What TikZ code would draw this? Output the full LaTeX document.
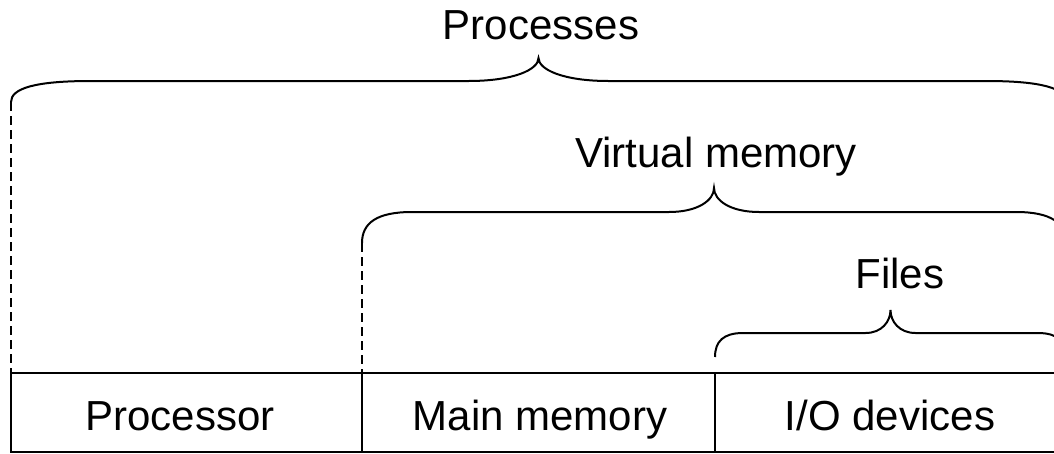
\documentclass[tikz,border=0pt]{standalone}
\usepackage{fontspec}
\setmainfont{Liberation Sans}
\begin{document}
\begin{tikzpicture}[x=1pt,y=-1pt,line width=2pt]
\fontsize{42}{50}\selectfont
\useasboundingbox (0,0) rectangle (1054,453);
% brace: left x, right x, end y, flat y, tip y, arm width, tip width
\def\brc#1#2#3#4#5#6#7{%
 \pgfmathsetmacro{\m}{(#1+#2)/2}
 \draw (#1,#3) .. controls (#1,{#4+0.35*(#3-#4)}) and ({#1+0.3*#6},#4) .. ({#1+#6},#4)
   -- ({\m-#7},#4) .. controls ({\m-0.35*#7},#4) and (\m,{#5+0.5*(#4-#5)}) .. (\m,#5)
   .. controls (\m,{#5+0.5*(#4-#5)}) and ({\m+0.35*#7},#4) .. ({\m+#7},#4)
   -- ({#2-#6},#4) .. controls ({#2-0.3*#6},#4) and (#2,{#4+0.35*(#3-#4)}) .. (#2,#3);
}
\brc{11}{1066}{102}{81}{58}{80}{70}
\brc{362}{1066}{243}{212}{188}{50}{45}
\brc{715}{1066}{357}{333}{310}{28}{25}
\draw[dash pattern=on 9pt off 5pt] (11,102) -- (11,373);
\draw[dash pattern=on 9pt off 5pt] (362,243) -- (362,373);
\draw (11,373) rectangle (1066,452);
\draw (362,373) -- (362,452);
\draw (715,373) -- (715,452);
\node[anchor=base] (procs) at (541,39) {Processes};
\node[anchor=base] (vmem) at (716,167) {Virtual memory};
\node[anchor=base] (files) at (900,288) {Files};
\node[anchor=base] (cpu) at (180,430) {Processor};
\node[anchor=base] (mem) at (540,430) {Main memory};
\node[anchor=base] (io) at (890,430) {I/O devices};
\end{tikzpicture}
\end{document}
